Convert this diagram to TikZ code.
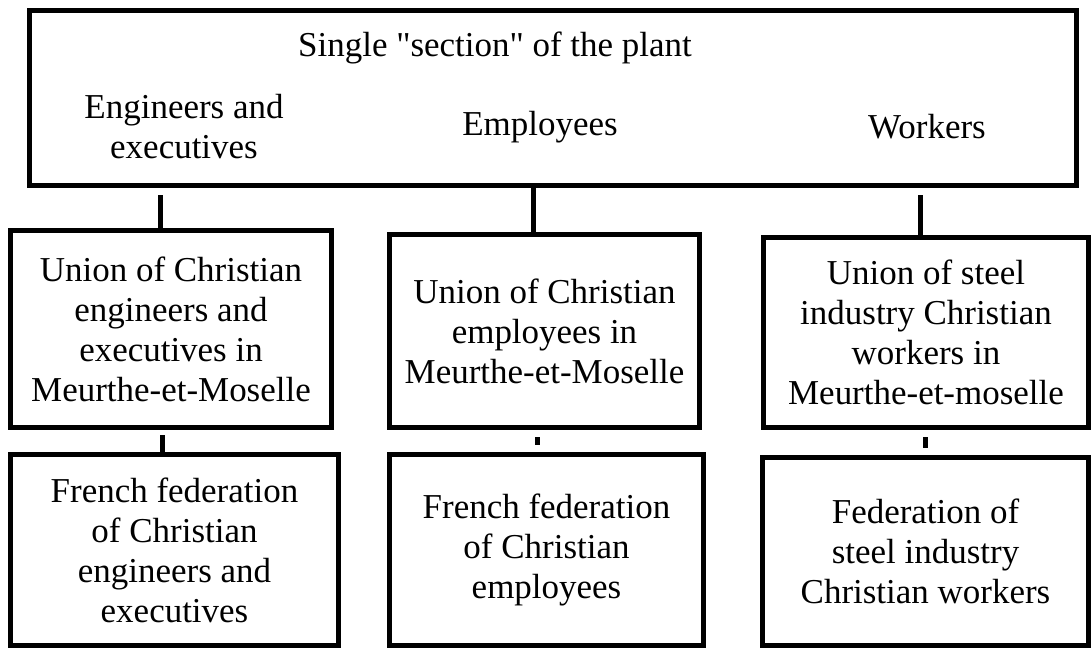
\documentclass[tikz,border=0pt]{standalone}
\usepackage{fontspec}
\setmainfont{Liberation Serif}[Ligatures=TeXOff]

\begin{document}
\begin{tikzpicture}[x=0.02cm, y=-0.02cm,
    every node/.style={font=\fontsize{19.9pt}{22.8pt}\selectfont},
    box/.style={draw, line width=0.1cm, inner sep=0pt, align=center},
    lbl/.style={align=center},
    link/.style={line width=0.1cm}]

  \useasboundingbox (0,0) rectangle (1092,650);

    \begin{scope}
      \node[box, minimum width=20.96cm, minimum height=3.52cm] (plant) at (553,98) {};
      \node[lbl] (title) at (495,48) {Single "section" of the plant};
      \node[lbl] (eng) at (184,127) {Engineers and\\executives};
      \node[lbl] (emp) at (540,127) {Employees};
      \node[lbl] (wrk) at (927,127) {Workers};
    \end{scope}

    \begin{scope}
      \node[box, minimum width=6.44cm, minimum height=3.96cm] (uleft) at (171,329)
        {Union of Christian\\engineers and\\executives in\\Meurthe-et-Moselle};
      \node[box, minimum width=6.22cm, minimum height=3.88cm] (umid) at (544.5,331)
        {Union of Christian\\employees in\\Meurthe-et-Moselle};
      \node[box, minimum width=6.52cm, minimum height=3.82cm] (uright) at (926,332.5)
        {Union of steel\\industry Christian\\workers in\\Meurthe-et-moselle};
    \end{scope}

    \begin{scope}
      \node[box, minimum width=6.58cm, minimum height=3.84cm] (fleft) at (174.5,550)
        {French federation\\of Christian\\engineers and\\executives};
      \node[box, minimum width=6.30cm, minimum height=3.84cm] (fmid) at (546.5,550)
        {French federation\\of Christian\\employees};
      \node[box, minimum width=6.54cm, minimum height=3.78cm] (fright) at (925.5,551.5)
        {Federation of\\steel industry\\Christian workers};
    \end{scope}

    \draw[link, shorten <=0.14cm] (160,0 |- plant.south) -- (160,0 |- uleft.north);
    \draw[link] (533,0 |- plant.south) -- (533,0 |- umid.north);
    \draw[link, shorten <=0.14cm] (920,0 |- plant.south) -- (920,0 |- uright.north);

    \draw[link, shorten <=0.1cm] (162,0 |- uleft.south) -- (162,0 |- fleft.north);
    \draw[link, shorten <=0.14cm, shorten >=0.14cm] (537,0 |- umid.south) -- (537,0 |- fmid.north);
    \draw[link, shorten <=0.14cm, shorten >=0.14cm] (925,0 |- uright.south) -- (925,0 |- fright.north);

\end{tikzpicture}
\end{document}
